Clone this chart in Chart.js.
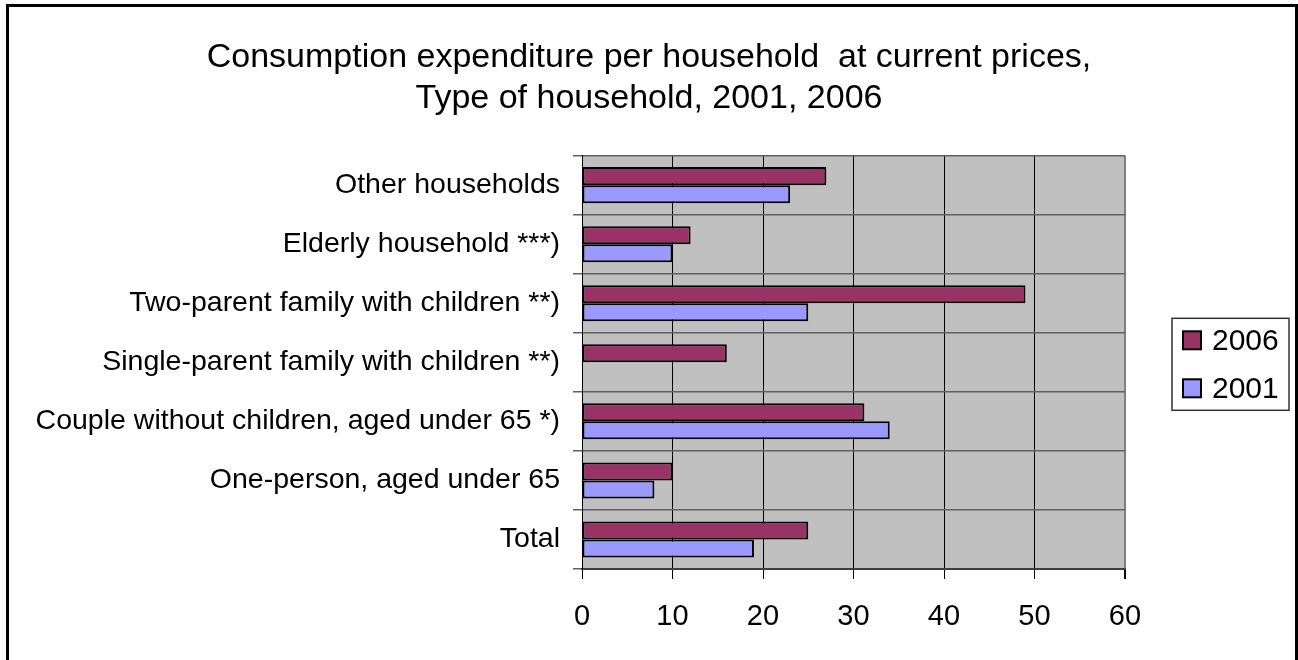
<!DOCTYPE html>
<html>
<head>
<meta charset="utf-8">
<script src="https://cdn.jsdelivr.net/npm/chart.js@4/dist/chart.umd.min.js"></script>
<style>
  html, body { margin: 0; padding: 0; background: #fff; overflow: hidden; }
  #wrap { position: absolute; left: 0; top: 0; width: 1298px; height: 660px; }
  #frame {
    position: absolute; left: 6px; top: 4px; width: 1286px; height: 700px;
    border: 3px solid #000; pointer-events: none;
  }
</style>
</head>
<body>
<div id="wrap"><canvas id="chart"></canvas></div>
<div id="frame"></div>
<script>
// Consumption expenditure per household, by type of household (2001 vs 2006)
const categories = [
  'Other households',
  'Elderly household ***)',
  'Two-parent family with children **)',
  'Single-parent family with children **)',
  'Couple without children, aged under 65 *)',
  'One-person, aged under 65',
  'Total',
];
const values2006 = [27, 12, 49, 16, 31.2, 10, 25];
const values2001 = [23, 10, 25, null, 34, 8, 19];
const seriesNames = ['2006', '2001'];
const xTicks = [0, 10, 20, 30, 40, 50, 60];

const FONT = '"Liberation Sans", Arial, sans-serif';

// grey plot background, like the old Excel default
const plotBackground = {
  id: 'plotBackground',
  beforeDraw(chart) {
    const { ctx, chartArea: a } = chart;
    ctx.save();
    ctx.fillStyle = '#c0c0c0';
    ctx.fillRect(a.left, a.top, a.right - a.left, a.bottom - a.top);
    ctx.restore();
  },
};

// boxed legend to the right of the plot (built-in one can't sit this far out)
const boxedLegend = {
  id: 'boxedLegend',
  afterDraw(chart) {
    const { ctx, chartArea: a } = chart;
    const sets = chart.data.datasets;
    const left = a.right + 47, width = 117, rowH = 48;
    const height = sets.length * rowH - 4;
    const top = (a.top + a.bottom) / 2 - height / 2 + 2;
    ctx.save();
    ctx.strokeStyle = '#333';
    ctx.lineWidth = 1.5;
    ctx.strokeRect(left, top, width, height);
    ctx.font = '30px ' + FONT;
    ctx.textBaseline = 'middle';
    sets.forEach((ds, i) => {
      const cy = top + 22 + i * rowH;
      ctx.fillStyle = ds.backgroundColor;
      ctx.fillRect(left + 11, cy - 9, 18, 18);
      ctx.strokeStyle = '#000';
      ctx.lineWidth = 2;
      ctx.strokeRect(left + 11, cy - 9, 18, 18);
      ctx.fillStyle = '#000';
      ctx.fillText(ds.label, left + 40, cy + 1);
    });
    ctx.restore();
  },
};

new Chart(document.getElementById('chart'), {
  type: 'bar',
  data: {
    labels: categories,
    datasets: [
      {
        label: seriesNames[0],
        data: values2006,
        backgroundColor: '#993366',
        borderColor: '#000',
        borderWidth: 2,
        borderSkipped: false,
      },
      {
        label: seriesNames[1],
        data: values2001,
        backgroundColor: '#9999ff',
        borderColor: '#000',
        borderWidth: 2,
        borderSkipped: false,
      },
    ],
  },
  options: {
    indexAxis: 'y',
    responsive: true,
    maintainAspectRatio: false,
    animation: false,
    categoryPercentage: 0.61,
    barPercentage: 1.0,
    layout: { padding: 0 },
    scales: {
      x: {
        min: 0,
        max: 60,
        afterBuildTicks: (axis) => { axis.ticks = xTicks.map(v => ({ value: v })); },
        afterFit: (axis) => { axis.height = 91; },
        ticks: { color: '#000', font: { family: FONT, size: 29 }, padding: 21 },
        grid: {
          color: (c) => (c.tick && c.tick.value === 60 ? '#808080' : '#000'),
          lineWidth: (c) => (c.tick && c.tick.value === 60 ? 2 : 1),
          tickColor: '#000',
          tickLength: 10,
        },
        border: { color: '#404040', width: 2 },
      },
      y: {
        afterFit: (axis) => { axis.width = 582; },
        ticks: { color: '#000', font: { family: FONT, size: 28.5 }, padding: 13 },
        grid: { color: '#606060', tickColor: '#606060', tickLength: 9, lineWidth: 1.5 },
        border: { color: '#000', width: 1 },
      },
      // empty right-hand axis: just reserves room for the legend box
      // so the title stays centred on the whole figure
      yRoom: {
        type: 'category',
        position: 'right',
        afterFit: (axis) => { axis.width = 173; },
        ticks: { display: false },
        grid: { display: false },
        border: { display: false },
      },
    },
    plugins: {
      legend: { display: false },
      tooltip: { enabled: false },
      title: {
        display: true,
        text: ['Consumption expenditure per household  at current prices,', 'Type of household, 2001, 2006'],
        color: '#000',
        font: { family: FONT, size: 34, weight: 'normal', lineHeight: 1.2 },
        padding: { top: 37, bottom: 37 },
      },
    },
  },
  plugins: [plotBackground, boxedLegend],
});
</script>
</body>
</html>
